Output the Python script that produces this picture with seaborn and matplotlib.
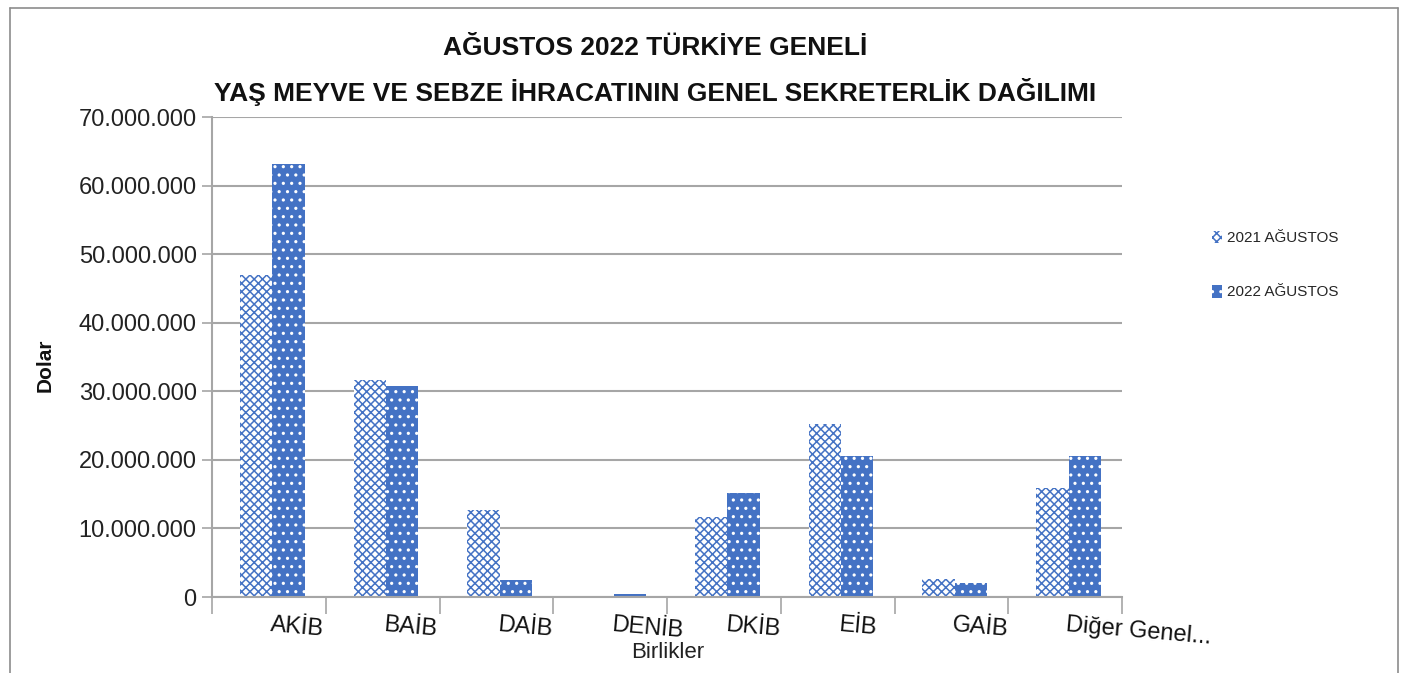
import matplotlib
matplotlib.use("Agg")
import matplotlib.pyplot as plt
import seaborn as sns
import pandas as pd
from matplotlib.ticker import FuncFormatter
from matplotlib.lines import Line2D
from matplotlib.patches import Patch

categories = ["AKİB", "BAİB", "DAİB", "DENİB", "DKİB", "EİB", "GAİB", "Diğer Genel..."]
series_names = ["2021 AĞUSTOS", "2022 AĞUSTOS"]
values_2021 = [47.0e6, 31.6e6, 12.7e6, 0.2e6, 11.7e6, 25.2e6, 2.6e6, 15.9e6]
values_2022 = [63.1e6, 30.8e6, 2.5e6, 0.4e6, 15.2e6, 20.6e6, 2.0e6, 20.6e6]
yticks = [0, 10e6, 20e6, 30e6, 40e6, 50e6, 60e6, 70e6]
title = "AĞUSTOS 2022 TÜRKİYE GENELİ\nYAŞ MEYVE VE SEBZE İHRACATININ GENEL SEKRETERLİK DAĞILIMI"

df = pd.DataFrame({
    "Birlik": categories * 2,
    "Seri": [series_names[0]] * len(categories) + [series_names[1]] * len(categories),
    "Deger": values_2021 + values_2022,
})

sns.set_theme(style="white")
plt.rcParams["font.family"] = ["Liberation Sans", "DejaVu Sans"]
plt.rcParams["hatch.linewidth"] = 1.1

BLUE = "#4472C4"
GRID = "#A6A6A6"

fig = plt.figure(figsize=(14.09, 6.73), dpi=100)
ax = fig.add_axes([212 / 1409, 1 - 597 / 673, (1122 - 212) / 1409, (597 - 117) / 673])

sns.barplot(data=df, x="Birlik", y="Deger", hue="Seri", hue_order=series_names,
            order=categories, width=0.57, ax=ax, legend=False, saturation=1)

styles = [dict(face="white", edge=BLUE, hatch="xxxx"),
          dict(face=BLUE, edge="white", hatch="..")]
for cont, st in zip(ax.containers, styles):
    for bar in cont:
        bar.set_facecolor(st["face"])
        bar.set_edgecolor(st["edge"])
        bar.set_hatch(st["hatch"])
        bar.set_linewidth(0)
        bar.set_x(bar.get_x() + 0.03)

ax.set_ylim(0, 70e6)
ax.set_xlim(-0.5, len(categories) - 0.5)
ax.set_yticks(yticks)
ax.yaxis.set_major_formatter(FuncFormatter(lambda v, p: f"{int(v):,}".replace(",", ".")))
ax.tick_params(axis="y", labelsize=17, length=7, width=1.2, color=GRID,
               direction="out", left=True, pad=4, labelcolor="#222222")
ax.grid(axis="y", color=GRID, linewidth=1.5)
ax.set_axisbelow(True)
for s in ["top", "right"]:
    ax.spines[s].set_visible(False)
for s in ["left", "bottom"]:
    ax.spines[s].set_color(GRID)
    ax.spines[s].set_linewidth(1.5)

# category boundary ticks
ax.set_xticks([i - 0.5 for i in range(len(categories) + 1)])
ax.set_xticklabels([])
ax.tick_params(axis="x", length=12, width=1.2, color=GRID, direction="out", bottom=True)
for i, c in enumerate(categories):
    ax.text(i + 0.02, -0.035, c, transform=ax.get_xaxis_transform(), ha="left", va="top",
            fontsize=17, rotation=-5, rotation_mode="anchor", color="#111111")

ax.set_xlabel("")
ax.set_ylabel("")
fig.text(668 / 1409, 1 - 652 / 673, "Birlikler", ha="center", va="center",
         fontsize=16, color="#222222")
fig.text(45 / 1409, 1 - 365 / 673, "Dolar", ha="center", va="center", rotation=90,
         fontsize=15, fontweight="bold", color="#111111")
fig.text(655 / 1409, 1 - 71 / 673, title, ha="center", va="center", fontsize=19,
         fontweight="bold", linespacing=1.8, color="#111111")

handles = [Patch(facecolor=st["face"], edgecolor=st["edge"], hatch=st["hatch"], linewidth=0)
           for st in styles]
fig.legend(handles, series_names, loc="center left",
           bbox_to_anchor=(1198 / 1409, 1 - 265 / 673), frameon=False, fontsize=11,
           handlelength=0.7, handleheight=0.9, handletextpad=0.3, labelspacing=2.6)

# outer frame
for (x0, y0, x1, y1) in [(10, 8, 1398, 8), (10, 8, 10, 673), (1398, 8, 1398, 673)]:
    fig.add_artist(Line2D([x0 / 1409, x1 / 1409], [1 - y0 / 673, 1 - y1 / 673],
                          color="#8C8C8C", linewidth=1.2, transform=fig.transFigure))

fig.savefig("out.png", dpi=100)
